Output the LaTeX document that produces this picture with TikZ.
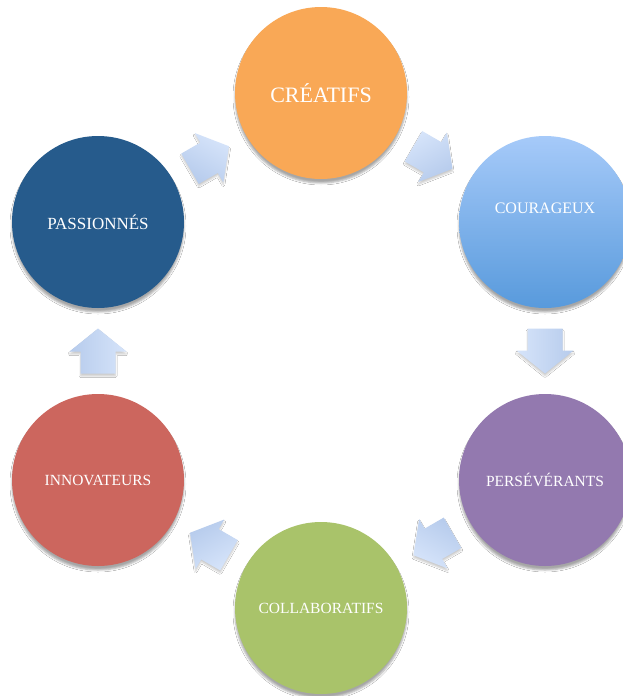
\documentclass[tikz,border=0pt]{standalone}
\usepackage{fontspec}
\setmainfont{Liberation Serif}
\usetikzlibrary{calc,positioning,shadows.blur}
\definecolor{creorange}{RGB}{249,168,86}
\definecolor{coutop}{RGB}{166,202,249}
\definecolor{coubot}{RGB}{88,154,220}
\definecolor{perpurple}{RGB}{147,121,175}
\definecolor{colgreen}{RGB}{169,195,106}
\definecolor{innred}{RGB}{204,102,94}
\definecolor{pasblue}{RGB}{38,91,140}
\definecolor{arrtop}{RGB}{214,228,250}
\definecolor{arrbot}{RGB}{182,203,236}
\tikzset{
	rond/.style={circle,minimum size=172pt,inner sep=0pt,text=white,font=\fontsize{15.5}{18}\selectfont,
		blur shadow={shadow xshift=0pt,shadow yshift=-4pt,shadow blur radius=2pt,shadow opacity=35}},
	pics/fleche/.style={code={
		\shade[top color=arrtop,bottom color=arrbot,shading angle=-#1,
			blur shadow={shadow xshift=0pt,shadow yshift=-2.5pt,shadow blur radius=1.5pt,shadow opacity=20}]
			(-22.5,-17.5) -- (-0.5,-17.5) -- (-0.5,-28.5) -- (22.5,0) -- (-0.5,28.5) -- (-0.5,17.5) -- (-22.5,17.5) -- cycle;}}}

\begin{document}
\begin{tikzpicture}[x=1pt,y=-1pt]
		\useasboundingbox[fill=white] (0,0) rectangle (623,696);
		\node (cre) at (321,93) [rond,fill=creorange,font=\fontsize{22}{26}\selectfont] {CRÉATIFS};
		\node (cou) at (545,222) [rond,top color=coutop,bottom color=coubot,
			label={[text=white,font=\fontsize{16}{18}\selectfont,yshift=14pt]center:COURAGEUX}] {};
		\node (per) at (545,480) [rond,fill=perpurple] {PERSÉVÉRANTS};
		\node (col) at (321,608) [rond,fill=colgreen] {COLLABORATIFS};
		\node (inn) at (98,480) [rond,fill=innred] {INNOVATEURS};
		\node (pas) at (98,222) [rond,fill=pasblue,font=\fontsize{17}{20}\selectfont] {PASSIONNÉS};
		\pic (f1) [rotate=30] at ($(pas)!0.5!(cre)$) {fleche=30};
		\pic (f2) [rotate=-30] at ($(cre)!0.5!(cou)$) {fleche=-30};
		\pic (f3) [rotate=-90] at ($(cou)!0.5!(per)$) {fleche=-90};
		\pic (f4) [rotate=-150] at ($(per)!0.5!(col)$) {fleche=-150};
		\pic (f5) [rotate=150] at ($(col)!0.5!(inn)$) {fleche=150};
		\pic (f6) [rotate=90] at ($(inn)!0.5!(pas)$) {fleche=90};
\end{tikzpicture}
\end{document}
